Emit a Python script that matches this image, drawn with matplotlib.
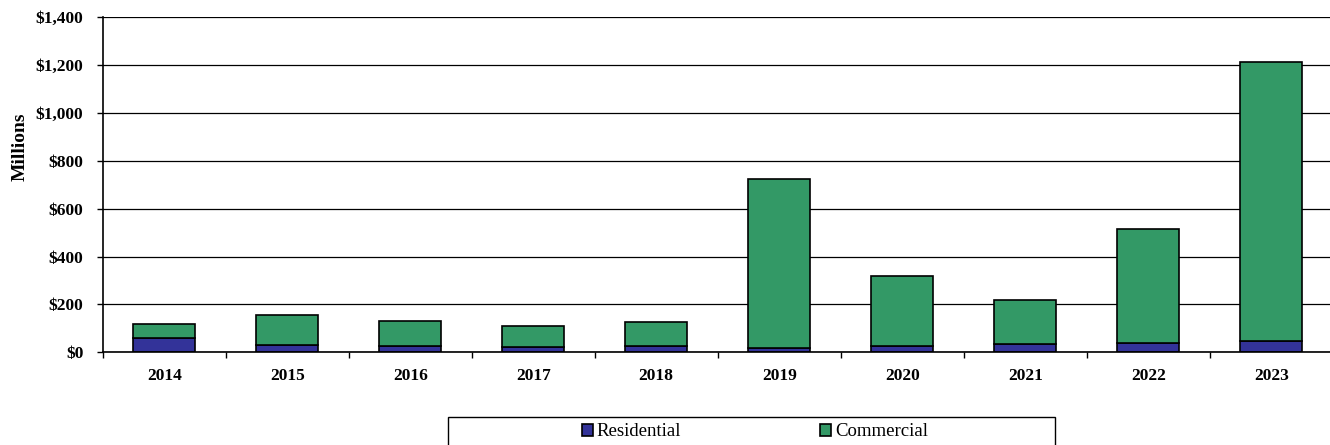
import numpy as np
import matplotlib
matplotlib.use('Agg')
import matplotlib.pyplot as plt
from matplotlib.patches import Rectangle

plt.rcParams['font.family'] = ['Liberation Serif', 'DejaVu Serif']

years = ['2014', '2015', '2016', '2017', '2018', '2019', '2020', '2021', '2022', '2023']
residential = [60, 29, 26, 22, 25, 18, 26, 36, 40, 46]
commercial = [60, 127, 105, 88, 103, 706, 294, 183, 475, 1168]
yticks = [0, 200, 400, 600, 800, 1000, 1200, 1400]
ytick_labels = ['$0', '$200', '$400', '$600', '$800', '$1,000', '$1,200', '$1,400']

RES_COL = '#333399'
COM_COL = '#339966'

fig = plt.figure(figsize=(13.3, 4.45), dpi=100, facecolor='w')
ax = fig.add_axes([102.7/1330, 1-352.3/445, 1230/1330, 335/445])

x = np.arange(len(years))
ax.bar(x, residential, width=0.5, color=RES_COL, edgecolor='k', linewidth=1.2, label='Residential')
ax.bar(x, commercial, width=0.5, bottom=residential, color=COM_COL, edgecolor='k', linewidth=1.2, label='Commercial')

ax.set_xlim(-0.5, len(years)-0.5)
ax.set_ylim(0, 1400)
ax.set_yticks(yticks)
ax.set_yticklabels(ytick_labels, fontsize=12.5, fontweight='bold')
ax.yaxis.grid(True, color='k', linewidth=0.9)
ax.set_axisbelow(True)

# boundary ticks between categories, labels at the centres
ax.set_xticks(np.arange(-0.5, len(years), 1.0))
ax.set_xticklabels([])
ax.set_xticks(x, minor=True)
ax.set_xticklabels(years, minor=True, fontsize=12.5, fontweight='bold')
ax.tick_params(axis='x', which='major', direction='out', length=4, width=1)
ax.tick_params(axis='x', which='minor', length=0, pad=11)
ax.tick_params(axis='y', direction='out', length=4, width=1, pad=10)

for s in ['top', 'right']:
    ax.spines[s].set_visible(False)
for s in ['left', 'bottom']:
    ax.spines[s].set_linewidth(1.2)

fig.text(20/1330, 1-147/445, 'Millions', rotation=90, ha='center', va='center',
         fontsize=14, fontweight='bold')

# legend with a wide frame drawn separately
fig.patches.append(Rectangle((448/1330, -0.05), 607/1330, 0.05+1-416.7/445,
                             transform=fig.transFigure, fill=False, edgecolor='k', linewidth=1))
fig.legend(loc='center', bbox_to_anchor=(755/1330, 1-431.7/445), ncol=2, frameon=False,
           prop={'size': 13.5}, handlelength=0.6, handleheight=0.6, handletextpad=0.2,
           columnspacing=7.4)

plt.savefig('out.png', dpi=100)
